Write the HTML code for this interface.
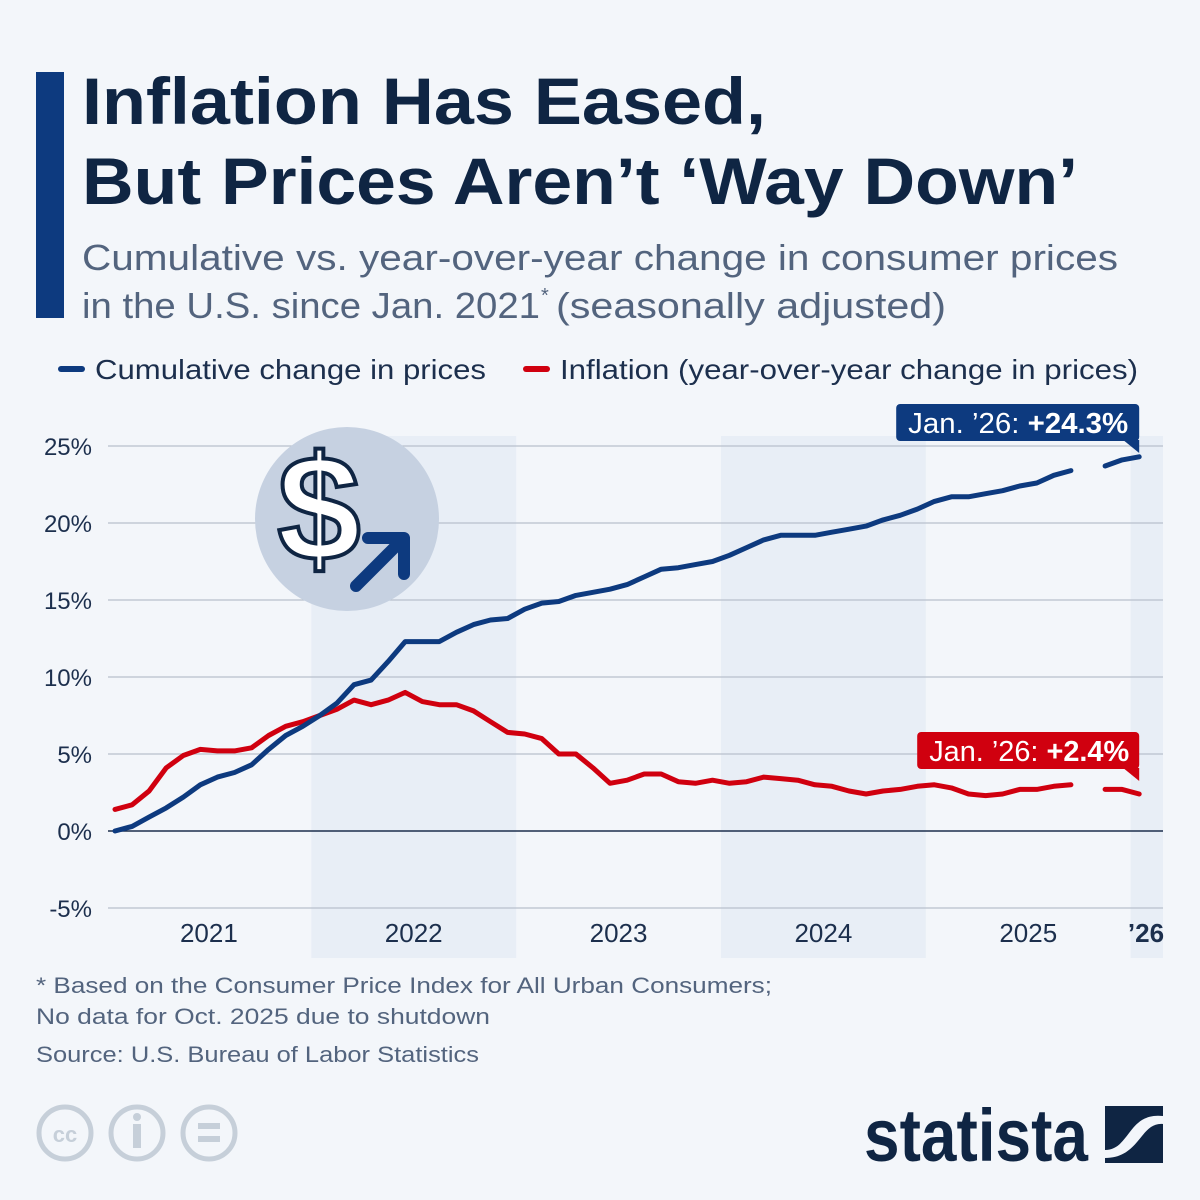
<!DOCTYPE html>
<html><head><meta charset="utf-8"><style>
html,body{margin:0;padding:0;background:#f3f6fa;}
svg{display:block;font-family:"Liberation Sans",sans-serif;}
</style></head><body>
<svg id="chart" width="1200" height="1200" viewBox="0 0 1200 1200" xmlns="http://www.w3.org/2000/svg">
<rect x="0" y="0" width="1200" height="1200" fill="#f3f6fa"/>
<rect x="36" y="72" width="28" height="246" fill="#0d3a7f"/>
<g fill="#0f2543" font-weight="bold" font-size="66">
<text x="82" y="124" textLength="684" lengthAdjust="spacingAndGlyphs">Inflation Has Eased,</text>
<text x="82" y="204" textLength="996" lengthAdjust="spacingAndGlyphs">But Prices Aren’t ‘Way Down’</text>
</g>
<g fill="#53647e" font-size="36">
<text x="82" y="270" textLength="1036" lengthAdjust="spacingAndGlyphs">Cumulative vs. year-over-year change in consumer prices</text>
<text x="82" y="318" textLength="458" lengthAdjust="spacingAndGlyphs">in the U.S. since Jan. 2021</text>
<text x="541" y="302" font-size="20">*</text>
<text x="556" y="318" textLength="390" lengthAdjust="spacingAndGlyphs">(seasonally adjusted)</text>
</g>
<g font-size="28" fill="#1c2f4d">
<line x1="61" y1="369" x2="82" y2="369" stroke="#0d3a7f" stroke-width="6" stroke-linecap="round"/>
<text x="95" y="379" textLength="391" lengthAdjust="spacingAndGlyphs">Cumulative change in prices</text>
<line x1="526" y1="369" x2="547" y2="369" stroke="#d0000f" stroke-width="6" stroke-linecap="round"/>
<text x="560" y="379" textLength="578" lengthAdjust="spacingAndGlyphs">Inflation (year-over-year change in prices)</text>
</g>
<g id="bands"></g>
<g id="grid"></g>
<g>
<circle cx="347" cy="519" r="92" fill="#c6d1e1"/>
<text x="319" y="560" font-size="150" font-weight="bold" fill="#ffffff" stroke="#0f2543" stroke-width="4" text-anchor="middle">$</text>
<line x1="356" y1="586" x2="400" y2="542" stroke="#0d3a7f" stroke-width="12" stroke-linecap="round"/>
<path d="M368 538 L404 538 L404 574" fill="none" stroke="#0d3a7f" stroke-width="12" stroke-linecap="round" stroke-linejoin="round"/>
</g>
<g id="lines"></g>
<g id="labels"></g>
<g fill="#53647e" font-size="22">
<text x="36" y="993" textLength="736" lengthAdjust="spacingAndGlyphs">* Based on the Consumer Price Index for All Urban Consumers;</text>
<text x="36" y="1024" textLength="454" lengthAdjust="spacingAndGlyphs">No data for Oct. 2025 due to shutdown</text>
<text x="36" y="1062" textLength="443" lengthAdjust="spacingAndGlyphs">Source: U.S. Bureau of Labor Statistics</text>
</g>
<g fill="none" stroke="#c6cfd9" stroke-width="5">
<circle cx="65" cy="1133" r="26"/>
<text x="65" y="1142" font-size="22" font-weight="bold" fill="#c6cfd9" stroke="none" text-anchor="middle">cc</text>
<circle cx="137" cy="1133" r="26"/>
<circle cx="137" cy="1117" r="4" fill="#c6cfd9" stroke="none"/>
<rect x="133" y="1124" width="8" height="24" fill="#c6cfd9" stroke="none"/>
<circle cx="209" cy="1133" r="26"/>
<rect x="198" y="1123" width="22" height="6" fill="#c6cfd9" stroke="none"/>
<rect x="198" y="1136" width="22" height="6" fill="#c6cfd9" stroke="none"/>
</g>
<g>
<text x="864" y="1161" font-size="74" font-weight="bold" fill="#0f2543" textLength="224" lengthAdjust="spacingAndGlyphs">statista</text>
<rect x="1105" y="1106" width="58" height="57" fill="#0f2543"/>
<path d="M1105 1150 C1130 1150 1128 1112 1163 1116 L1163 1124 C1140 1122 1140 1158 1105 1158 Z" fill="#f3f6fa"/>
</g>
</svg>
<script>
const months = ["Jan21","Feb21","Mar21","Apr21","May21","Jun21","Jul21","Aug21","Sep21","Oct21","Nov21","Dec21","Jan22","Feb22","Mar22","Apr22","May22","Jun22","Jul22","Aug22","Sep22","Oct22","Nov22","Dec22","Jan23","Feb23","Mar23","Apr23","May23","Jun23","Jul23","Aug23","Sep23","Oct23","Nov23","Dec23","Jan24","Feb24","Mar24","Apr24","May24","Jun24","Jul24","Aug24","Sep24","Oct24","Nov24","Dec24","Jan25","Feb25","Mar25","Apr25","May25","Jun25","Jul25","Aug25","Sep25","Oct25","Nov25","Dec25","Jan26"];
const cumulative = [0,0.3,0.9,1.5,2.2,3.0,3.5,3.8,4.3,5.3,6.2,6.8,7.5,8.3,9.5,9.8,11.0,12.3,12.3,12.3,12.9,13.4,13.7,13.8,14.4,14.8,14.9,15.3,15.5,15.7,16.0,16.5,17.0,17.1,17.3,17.5,17.9,18.4,18.9,19.2,19.2,19.2,19.4,19.6,19.8,20.2,20.5,20.9,21.4,21.7,21.7,21.9,22.1,22.4,22.6,23.1,23.4,null,23.7,24.1,24.3];
const inflation = [1.4,1.7,2.6,4.1,4.9,5.3,5.2,5.2,5.4,6.2,6.8,7.1,7.5,7.9,8.5,8.2,8.5,9.0,8.4,8.2,8.2,7.8,7.1,6.4,6.3,6.0,5.0,5.0,4.1,3.1,3.3,3.7,3.7,3.2,3.1,3.3,3.1,3.2,3.5,3.4,3.3,3.0,2.9,2.6,2.4,2.6,2.7,2.9,3.0,2.8,2.4,2.3,2.4,2.7,2.7,2.9,3.0,null,2.7,2.7,2.4];
const yTicks = [-5,0,5,10,15,20,25];
const yTickLabels = ["-5%","0%","5%","10%","15%","20%","25%"];
const yearLabels = ["2021","2022","2023","2024","2025","’26"];
const yearStartIdx = [0,12,24,36,48,60];

const NS = "http://www.w3.org/2000/svg";
const x0 = 115, dx = 17.07;
const xOf = i => x0 + i*dx;
const yOf = v => 831 - v*15.4;
const plotL = 108, plotR = 1163;
function mk(tag, attrs, parent){const e=document.createElementNS(NS,tag);for(const k in attrs)e.setAttribute(k,attrs[k]);parent.appendChild(e);return e;}

const bands = document.getElementById('bands');
[1,3,5].forEach(k=>{
  const s = xOf(yearStartIdx[k]) - dx/2;
  const e = Math.min(plotR, xOf(yearStartIdx[k]+12) - dx/2);
  const r = mk('rect',{x:s,y:yOf(25)-10,width:e-s,height:958-(yOf(25)-10),fill:'#e8eef6'},bands);
  
  
});

const grid = document.getElementById('grid');
yTicks.forEach((t,i)=>{
  const l = mk('line',{x1:plotL,x2:plotR,y1:yOf(t),y2:yOf(t),stroke:t===0?'#1c2f4d':'#b8c0cc','stroke-width':t===0?1.6:1.2},grid);
  
  
  const tx = mk('text',{x:92,y:yOf(t)+9,'text-anchor':'end','font-size':24,fill:'#1c2f4d'},grid);
  tx.textContent = yTickLabels[i];
  
  
});
yearLabels.forEach((lab,k)=>{
  const last = k===yearLabels.length-1;
  const cx = last ? 1146 : xOf(yearStartIdx[k]) + 5.5*dx;
  const tx = mk('text',{x:cx,y:942,'text-anchor':'middle','font-size':26,fill:'#1c2f4d','font-weight':last?'bold':'normal'},grid);
  tx.textContent = lab;
  
  
});

const lines = document.getElementById('lines');
function drawSeries(vals,color,name){
  let segs=[],cur=[];
  vals.forEach((v,i)=>{ if(v===null){ if(cur.length)segs.push(cur); cur=[]; } else cur.push([xOf(i),yOf(v)]); });
  if(cur.length)segs.push(cur);
  segs.forEach(sg=>{
    const p = mk('path',{d:'M'+sg.map(q=>q[0].toFixed(1)+' '+q[1].toFixed(1)).join(' L'),fill:'none',stroke:color,'stroke-width':5,'stroke-linejoin':'round','stroke-linecap':'round'},lines);
    
    
  });
}
drawSeries(inflation,'#d0000f','inflation-line');
drawSeries(cumulative,'#0d3a7f','cumulative-line');

const labels = document.getElementById('labels');
function callout(vals,color,name,boxW,boxH,yTop,textW){
  const lastI = vals.length-1;
  const px = xOf(lastI);
  const right = px;
  const left = right - boxW;
  const g = mk('g',{},labels);
  
  
  mk('rect',{x:left,y:yTop,width:boxW,height:boxH,rx:4,fill:color},g);
  mk('path',{d:`M${right-16} ${yTop+boxH-1} L${right} ${yTop+boxH-1} L${right} ${yTop+boxH+12} Z`,fill:color},g);
  const t = mk('text',{x:left+12,y:yTop+boxH-8,'font-size':29,fill:'#ffffff',textLength:textW,lengthAdjust:'spacingAndGlyphs'},g);
  t.textContent = 'Jan. ’26: ';
  const b = mk('tspan',{'font-weight':'bold'},t);
  b.textContent = '+'+vals[lastI].toFixed(1)+'%';
}
callout(cumulative,'#0d3a7f','callout-cumulative',243,37,404,220);
callout(inflation,'#d0000f','callout-inflation',222,37,732,200);
</script>
</body></html>
